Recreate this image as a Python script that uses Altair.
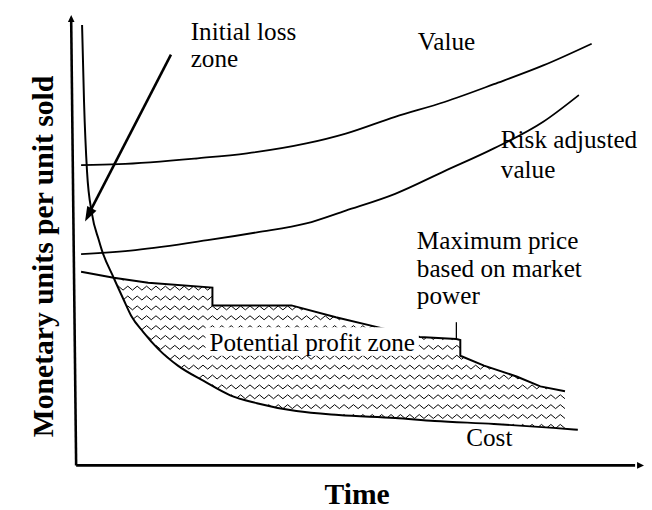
import altair as alt
import pandas as pd

# ---------------- data ----------------
# time units on x, monetary units on y, origin at the corner of the two axes
cost_t = [6, 8, 11, 16, 23, 26, 38, 48, 56, 68, 83, 103, 130, 156, 183, 223, 266, 323, 363, 423, 483, 508]
cost_v = [446, 368, 298, 255, 228, 218, 190, 168, 151, 135, 118, 101, 85, 71, 63, 55, 51, 48, 45, 42, 38, 36]

value_t = [5, 43, 123, 173, 233, 273, 323, 373, 423, 473, 522]
value_v = [304, 305, 311, 316, 326, 336, 353, 368, 386, 405, 427]

risk_t = [5, 60, 133, 183, 233, 273, 323, 373, 423, 473, 509]
risk_v = [214, 218, 228, 236, 245, 258, 275, 298, 321, 348, 375]

price_t = [5, 38, 73, 138, 138, 218, 263, 305, 348, 385, 389, 389, 413, 446, 470, 495]
price_v = [196, 190, 185, 180, 162, 162, 150, 140, 130, 128, 127, 111, 101, 90, 80, 75]

labels_text = ["Initial loss", "zone", "Value", "Risk adjusted", "value",
               "Maximum price", "based on market", "power",
               "Potential profit zone", "Cost"]
labels_t = [116, 116, 346, 430, 430, 345, 345, 345, 135, 395]
labels_v = [431, 403, 421, 321, 291, 219, 191, 163, 116, 20]

# arrow to the initial loss zone (start, tip)
loss_arrow_t = [96, 9]
loss_arrow_v = [416, 247]

# pointer from the "Maximum price" label to the price curve
pointer_t = [385, 385]
pointer_v = [145, 127]

# white box behind "Potential profit zone"
zone_box = {"t0": [131], "t1": [347], "v0": [111], "v1": [140]}

x_title = "Time"
y_title = "Monetary units per unit sold"

FONT = "Liberation Serif"

X = alt.Scale(domain=[-69, 575], nice=False, zero=False)
Y = alt.Scale(domain=[-42, 460], nice=False, zero=False)


def frame(t, v):
    return pd.DataFrame({"t": t, "v": v, "i": list(range(len(t)))})


def xy():
    return dict(x=alt.X("t:Q", scale=X, axis=None), y=alt.Y("v:Q", scale=Y, axis=None))


def line(df, width=2.0, interp="linear"):
    return alt.Chart(df).mark_line(color="black", strokeWidth=width, interpolate=interp).encode(
        order="i:Q", **xy())


cost_df = frame(cost_t, cost_v)
price_df = frame(price_t, price_v)

# ---------------- zig-zag texture of the profit zone ----------------
n_cols, n_rows = 97, 16
t0, t1 = 38, 495
hatch = alt.Chart(alt.sequence(0, n_cols * n_rows, as_="k")).transform_calculate(
    row=f"floor(datum.k / {n_cols})", col=f"datum.k % {n_cols}"
).transform_calculate(
    t=f"{t0} + datum.col * {(t1 - t0) / (n_cols - 1)}",
    v="37.5 + datum.row * 10 + (datum.col % 2) * 4",
).mark_line(color="black", strokeWidth=1).encode(
    detail="row:N", order="col:Q", **xy())

# white masks that trim the texture to the zone between price and cost
top_df = price_df.assign(edge=205)
top_mask = alt.Chart(top_df).mark_area(fill="white", opacity=1).encode(
    x=alt.X("t:Q", scale=X, axis=None),
    y=alt.Y("v:Q", scale=Y, axis=None, stack=None),
    y2="edge:Q")

bot_df = cost_df.assign(edge=22)
bottom_mask = alt.Chart(bot_df).mark_area(fill="white", opacity=1, interpolate="monotone").encode(
    x=alt.X("t:Q", scale=X, axis=None),
    y=alt.Y("v:Q", scale=Y, axis=None, stack=None),
    y2="edge:Q")

box = alt.Chart(pd.DataFrame(zone_box)).mark_rect(fill="white", opacity=1).encode(
    x=alt.X("t0:Q", scale=X, axis=None), x2="t1:Q",
    y=alt.Y("v0:Q", scale=Y, axis=None), y2="v1:Q")

price_line = line(price_df, 2.0)
value_line = line(frame(value_t, value_v), 1.8, "monotone")
risk_line = line(frame(risk_t, risk_v), 1.8, "monotone")
cost_line = line(cost_df, 2.0, "monotone")
pointer = line(frame(pointer_t, pointer_v), 1.3)

# axes drawn as arrows
y_axis = line(frame([-5, 0], [449, 0]), 2.6)
x_axis = line(frame([0, 566], [0, 0]), 2.6)
axis_heads = alt.Chart(pd.DataFrame({"t": [-5, 575], "v": [456, 0], "a": [0, 90]})).mark_point(
    shape="M0,0L-0.95,2L0.95,2Z", filled=True, color="black", opacity=1, size=49, strokeWidth=0
).encode(angle=alt.Angle("a:Q", scale=None), **xy())

# initial loss arrow
loss_line = line(frame([loss_arrow_t[0], 14], [loss_arrow_v[0], 257]), 2.6)
loss_head = alt.Chart(pd.DataFrame({"t": [loss_arrow_t[1]], "v": [loss_arrow_v[1]], "a": [207.3]})).mark_point(
    shape="M0,0L-0.7,2L0.7,2Z", filled=True, color="black", opacity=1, size=225, strokeWidth=0
).encode(angle=alt.Angle("a:Q", scale=None), **xy())

labels = alt.Chart(pd.DataFrame({"label": labels_text, "t": labels_t, "v": labels_v})).mark_text(
    font=FONT, fontSize=25.5, align="left", baseline="alphabetic", color="black"
).encode(text="label:N", **xy())

xt = alt.Chart(pd.DataFrame({"label": [x_title], "t": [284.5], "v": [-39]})).mark_text(
    font=FONT, fontSize=30, fontWeight="bold", align="center", baseline="alphabetic", color="black"
).encode(text="label:N", **xy())

yt = alt.Chart(pd.DataFrame({"label": [y_title], "t": [-23], "v": [211.5]})).mark_text(
    font=FONT, fontSize=30, fontWeight="bold", align="center", baseline="alphabetic",
    angle=270, color="black"
).encode(text="label:N", **xy())

chart = alt.layer(
    hatch, top_mask, bottom_mask, price_line, box,
    value_line, risk_line, cost_line, pointer,
    y_axis, x_axis, axis_heads, loss_line, loss_head,
    labels, xt, yt,
).properties(
    width=644, height=502, padding=0,
    autosize=alt.AutoSizeParams(type="none"),
    background="white",
).configure_view(strokeWidth=0)

chart.save("out.html", embed_options={"renderer": "svg", "actions": False})
